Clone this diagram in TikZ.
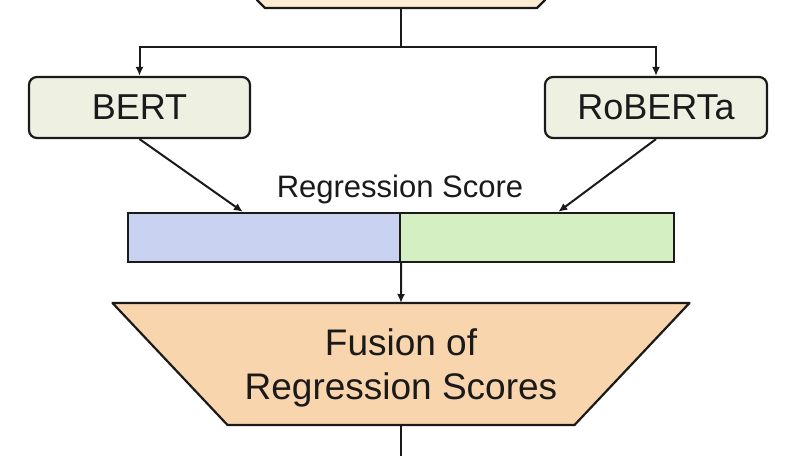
\documentclass[tikz,border=0pt]{standalone}
\usepackage{fontspec}
\setmainfont{Liberation Sans}
\usetikzlibrary{arrows.meta,calc,backgrounds}
\definecolor{srcfill}{HTML}{FDEBD2}
\definecolor{fusefill}{HTML}{F9D5AD}
\definecolor{modelfill}{HTML}{EEF0E2}
\definecolor{bluefill}{HTML}{C9D3F1}
\definecolor{greenfill}{HTML}{D4EFC2}
\definecolor{ink}{HTML}{1A1A1A}
\tikzset{
  x=1pt, y=-1pt,
  edge/.style={draw=ink, line width=2.2pt, line join=round},
  conn/.style={draw=ink, line width=2pt, -{Latex[length=9pt,width=8pt]}},
  model/.style={draw=ink, line width=2.2pt, fill=modelfill, rounded corners=8pt,
    minimum height=61pt, inner sep=0pt, text=ink,
    font=\fontsize{36}{43}\selectfont},
  barpart/.style={draw=ink, line width=2.2pt, minimum height=49pt, inner sep=0pt},
  ghost/.style={inner sep=0pt, outer sep=0pt}
}
\begin{document}
\begin{tikzpicture}
\useasboundingbox (0,0) rectangle (808,455);
\clip (0,0) rectangle (808,455);
% source box (cut off at top)
\node[ghost, minimum width=288pt, minimum height=60pt] (src) at (401,-22) {};
% models
\node[model, minimum width=221pt] (bert) at (139.5,107.5) {BERT};
\node[model, minimum width=222pt] (roberta) at (656,107.5) {RoBERTa};
% regression score bar
\node[barpart, fill=bluefill, minimum width=272pt] (lbar) at (264,237.5) {};
\node[barpart, fill=greenfill, minimum width=274pt] (rbar) at (537,237.5) {};
\node[ghost, anchor=base, text=ink, font=\fontsize{31}{37}\selectfont] (lbl) at (400,197) {Regression Score};
% fusion
\node[ghost, minimum width=577pt, minimum height=122pt] (fusion) at (401,364) {};
\node[ghost, align=center, text=ink, font=\fontsize{37}{44}\selectfont] (fusiontext) at (401,368) {Fusion of\\Regression Scores};
\coordinate (out) at (401,470);
\begin{scope}[on background layer]
  \draw[edge, fill=srcfill] (src.north west) -- ([yshift=8pt]src.south west) -- ([xshift=8pt]src.south west)
    -- ([xshift=-8pt]src.south east) -- ([yshift=8pt]src.south east) -- (src.north east) -- cycle;
  \draw[edge, fill=fusefill] (fusion.north west) -- (fusion.north east)
    -- ([xshift=-115pt]fusion.south east) -- ([xshift=115pt]fusion.south west) -- cycle;
\end{scope}
% connectors
\draw[conn] (src.south) -- ++(0,39) -| (bert.north);
\draw[conn] (src.south) -- ++(0,39) -| (roberta.north);
\draw[conn] (bert.south) -- ($(lbar.north west)!0.423!(lbar.north east)$);
\draw[conn] (roberta.south) -- ($(rbar.north west)!0.577!(rbar.north east)$);
\draw[conn] (lbar.south east) -- (fusion.north);
\draw[conn] (fusion.south) -- (out);
\end{tikzpicture}
\end{document}
